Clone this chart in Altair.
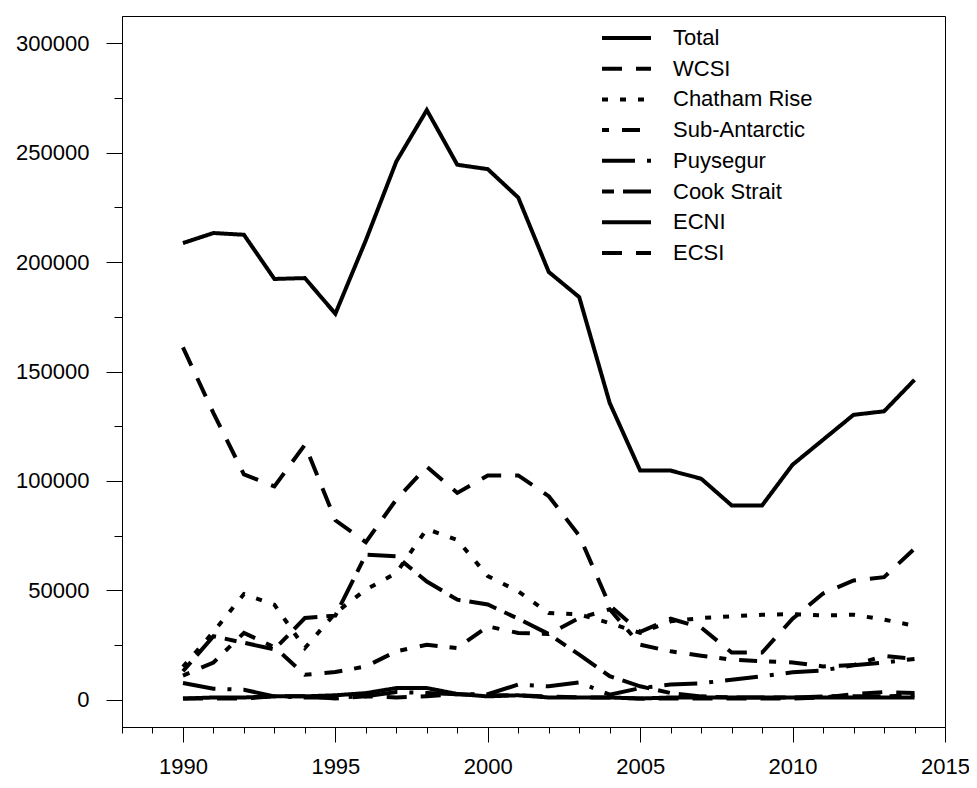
import altair as alt
import pandas as pd

years = list(range(1990, 2015))
series_names = ["Total", "WCSI", "Chatham Rise", "Sub-Antarctic", "Puysegur",
                "Cook Strait", "ECNI", "ECSI"]

total = [208700, 213300, 212500, 192300, 192700, 176400, 210000, 246000, 269500,
         244500, 242500, 229500, 195500, 184000, 135600, 104700, 104700, 101000,
         88800, 88800, 107400, 118800, 130200, 131800, 146200]
wcsi = [161000, 131000, 103000, 97500, 116500, 82000, 72000, 91500, 106500,
        94500, 102500, 102500, 93000, 75000, 43000, 31000, 37000, 33000,
        21500, 21500, 37000, 48500, 54500, 56000, 69000]
chatham = [15000, 31000, 48300, 43400, 23600, 39600, 50300, 57900, 78000,
           73000, 56500, 49500, 39600, 39000, 35000, 30500, 35800, 37300,
           38100, 38800, 39100, 38500, 38800, 36600, 33800]
subant = [11000, 17000, 30500, 24000, 11400, 12600, 15200, 22100, 25100,
          23600, 33500, 30500, 30000, 37300, 41300, 25100, 22100, 20100,
          18300, 17500, 17000, 15200, 15800, 20000, 18600]
puysegur = [7600, 5000, 4500, 1500, 1000, 1000, 1500, 3500, 3000,
            2500, 2500, 6900, 6100, 7900, 2300, 5300, 6900, 7500,
            9100, 10700, 12500, 13400, 15700, 17000, 18600]
cook = [13000, 29000, 26000, 23000, 37300, 38400, 66300, 65500, 54000,
        45700, 43500, 37000, 30000, 20600, 10700, 6100, 3000, 1500,
        1000, 1000, 1000, 1500, 1500, 1500, 2000]
ecni = [500, 1000, 1000, 1500, 1500, 2000, 3000, 5300, 5300,
        2600, 1500, 2000, 1000, 1000, 1000, 500, 1000, 1000,
        1000, 1000, 1000, 1000, 1000, 1000, 1000]
ecsi = [500, 500, 500, 1500, 1500, 500, 1500, 1000, 1500,
        2500, 2000, 2000, 1500, 1000, 1000, 500, 500, 500,
        500, 500, 500, 1000, 2500, 3500, 3000]

values = [total, wcsi, chatham, subant, puysegur, cook, ecni, ecsi]
dashes = [[1, 0], [20, 14], [6, 12], [7, 13, 18, 12], [33, 12, 4, 12],
          [12, 9, 28, 9], [1, 0], [20, 14]]

rows = []
for name, vals in zip(series_names, values):
    for yr, v in zip(years, vals):
        rows.append({"year": yr, "catch": v, "series": name})
df = pd.DataFrame(rows)

y_all = list(range(0, 300001, 25000))
x_all = list(range(1988, 2016))

x_scale = alt.Scale(domain=[1988, 2015], nice=False, zero=False)
y_scale = alt.Scale(domain=[-12500, 312500], nice=False, zero=False)

font = "Liberation Sans"

lines = alt.Chart(df).mark_line(strokeWidth=4, color="black", strokeCap="butt",
                                strokeJoin="miter").encode(
    x=alt.X("year:Q", scale=x_scale,
            axis=alt.Axis(values=x_all, title=None, grid=False,
                          labelExpr="datum.value % 5 === 0 ? datum.value : ''",
                          tickSize={"condition": {"test": "datum.value % 5 === 0", "value": 15}, "value": 6},
                          labelFont=font, labelFontSize=22, labelColor="black",
                          labelPadding=14, labelFlush=False, labelOverlap=False,
                          tickColor="black", domainColor="black", tickWidth=1)),
    y=alt.Y("catch:Q", scale=y_scale,
            axis=alt.Axis(values=y_all, title=None, grid=False,
                          labelExpr="datum.value % 50000 === 0 ? datum.value : ''",
                          tickSize={"condition": {"test": "datum.value % 50000 === 0", "value": 16}, "value": 8},
                          labelFont=font, labelFontSize=22, labelColor="black",
                          labelPadding=17, labelFlush=False, labelOverlap=False,
                          tickColor="black", domainColor="black", tickWidth=1)),
    strokeDash=alt.StrokeDash("series:N",
                              scale=alt.Scale(domain=series_names, range=dashes),
                              legend=alt.Legend(orient="none", legendX=478, legendY=11,
                                                title=None, symbolType="stroke",
                                                symbolSize=2401, symbolStrokeWidth=4,
                                                symbolStrokeColor="black",
                                                clipHeight=22, rowPadding=8.7,
                                                labelOffset=20, labelFont=font,
                                                labelFontSize=22, labelColor="black",
                                                padding=0)),
    detail="series:N",
)

chart = lines.properties(
    width=823, height=711,
    autosize=alt.AutoSizeParams(type="none"),
    padding={"left": 114, "top": 8, "right": 24, "bottom": 53},
).configure(background="white").configure_view(stroke="black", strokeWidth=1)

chart.save("out.html", embed_options={"renderer": "svg", "actions": False})
